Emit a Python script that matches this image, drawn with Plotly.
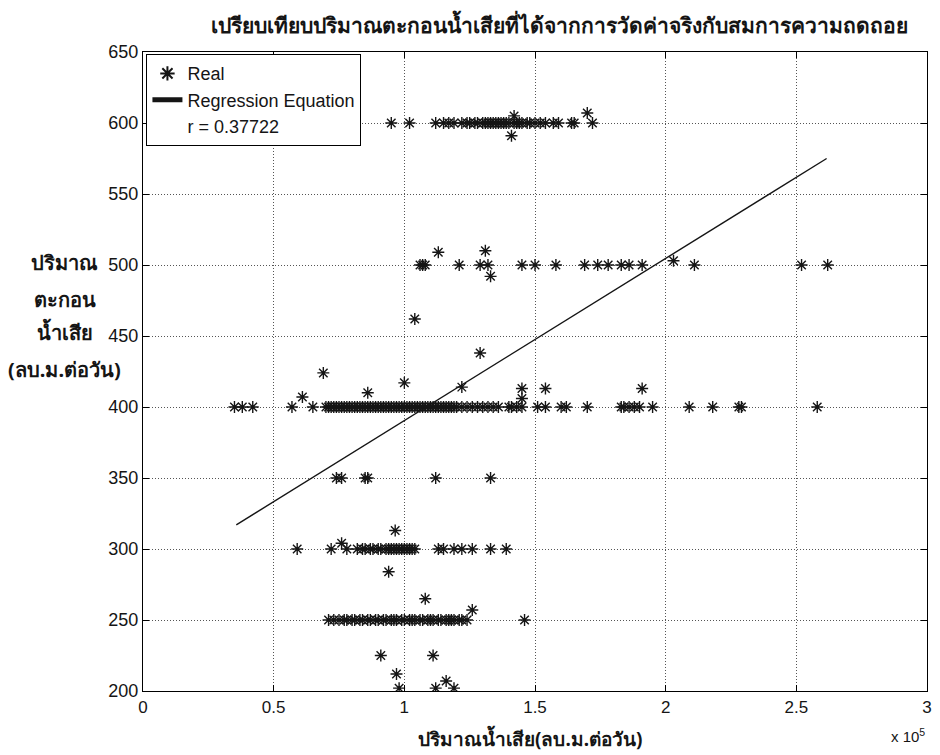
import plotly.graph_objects as go

# ---- data (x in units of 10^5 m3/day, y in m3/day) ----
row600_x = [0.95, 1.02, 1.12, 1.15, 1.17, 1.19, 1.22, 1.24, 1.25, 1.27, 1.28, 1.30, 1.31,
            1.32, 1.33, 1.34, 1.35, 1.36, 1.37, 1.38, 1.39, 1.40, 1.42, 1.43, 1.44, 1.45,
            1.47, 1.48, 1.50, 1.52, 1.54, 1.57, 1.59, 1.64, 1.65, 1.72]
row600_y = 600

row500_x = [1.06, 1.07, 1.08, 1.21, 1.29, 1.32, 1.45, 1.50, 1.58, 1.69, 1.74, 1.78,
            1.83, 1.86, 1.91, 2.11, 2.52, 2.62]
row500_y = 500

row400_x = [0.35, 0.38, 0.42, 0.57, 0.65, 0.70, 0.71, 0.72, 0.73, 0.74, 0.75, 0.76, 0.77,
            0.78, 0.79, 0.80, 0.81, 0.82, 0.83, 0.84, 0.85, 0.86, 0.87, 0.88, 0.89, 0.90,
            0.91, 0.92, 0.93, 0.94, 0.95, 0.96, 0.97, 0.98, 0.99, 1.00, 1.01, 1.02, 1.03,
            1.04, 1.05, 1.06, 1.07, 1.08, 1.09, 1.10, 1.11, 1.12, 1.13, 1.14, 1.15, 1.16,
            1.17, 1.18, 1.19, 1.20, 1.22, 1.24, 1.26, 1.28, 1.30, 1.32, 1.34, 1.36, 1.40,
            1.41, 1.43, 1.45, 1.51, 1.54, 1.60, 1.62, 1.70, 1.83, 1.84, 1.86, 1.88, 1.90,
            1.95, 2.09, 2.18, 2.28, 2.29, 2.58]
row400_y = 400

row350_x = [0.74, 0.76, 0.85, 0.86, 1.12, 1.33]
row350_y = 350

row300_x = [0.59, 0.72, 0.78, 0.82, 0.84, 0.85, 0.87, 0.88, 0.90, 0.91, 0.93, 0.94, 0.95,
            0.96, 0.97, 0.98, 0.99, 1.00, 1.01, 1.02, 1.03, 1.04, 1.13, 1.15, 1.19, 1.22,
            1.26, 1.33, 1.39]
row300_y = 300

row250_x = [0.71, 0.73, 0.75, 0.77, 0.78, 0.80, 0.81, 0.83, 0.84, 0.86, 0.87, 0.89, 0.90,
            0.92, 0.93, 0.95, 0.96, 0.97, 0.99, 1.00, 1.02, 1.03, 1.04, 1.06, 1.07, 1.09,
            1.10, 1.11, 1.13, 1.14, 1.16, 1.17, 1.18, 1.19, 1.21, 1.22, 1.24, 1.46]
row250_y = 250

other_x = [1.41, 1.42, 1.70, 2.03, 1.13, 1.31, 1.33, 1.04, 1.29,
           0.61, 0.69, 0.86, 1.00, 1.22, 1.45, 1.45, 1.54, 1.91,
           0.76, 0.965, 0.94, 1.26, 1.08, 0.91, 1.11, 0.97, 0.98, 1.16, 1.19, 1.12]
other_y = [591, 605, 607, 503, 509, 510, 492, 462, 438,
           407, 424, 410, 417, 414, 413, 406, 413, 413,
           304, 313, 284, 257, 265, 225, 225, 212, 202, 207, 202, 202]

reg_x = [0.357, 2.616]
reg_y = [317, 575]
r_label = "r = 0.37722"

x_ticks = [0, 0.5, 1, 1.5, 2, 2.5, 3]
x_tick_text = ["0", "0.5", "1", "1.5", "2", "2.5", "3"]
y_ticks = [200, 250, 300, 350, 400, 450, 500, 550, 600, 650]

title_text = "เปรียบเทียบปริมาณตะกอนน้ำเสียที่ได้จากการวัดค่าจริงกับสมการความถดถอย"
x_title = "ปริมาณน้ำเสีย(ลบ.ม.ต่อวัน)"
y_title_lines = ["ปริมาณ", "ตะกอน", "น้ำเสีย", "(ลบ.ม.ต่อวัน)"]

# ---- assemble ----
real_x, real_y = [], []
for xs, yv in [(row600_x, row600_y), (row500_x, row500_y), (row400_x, row400_y),
               (row350_x, row350_y), (row300_x, row300_y), (row250_x, row250_y)]:
    real_x += xs
    real_y += [yv] * len(xs)
real_x += other_x
real_y += other_y

FONT = "Liberation Sans, Arial, Noto Sans, sans-serif"
THAI = "Noto Sans, sans-serif"
INK = "#151515"

fig = go.Figure()
fig.add_trace(go.Scatter(
    x=real_x, y=real_y, mode="markers", name="Real",
    marker=dict(symbol="asterisk-open", size=10, color=INK,
                line=dict(width=1.4, color=INK)),
))
fig.add_trace(go.Scatter(
    x=reg_x, y=reg_y, mode="lines", name="Regression Equation",
    line=dict(color=INK, width=1.4),
))
fig.add_trace(go.Scatter(
    x=[None], y=[None], mode="lines", name=r_label,
    line=dict(color="rgba(0,0,0,0)", width=1),
))

axis_common = dict(
    showline=True, linecolor="black", linewidth=1.3, mirror="ticks",
    ticks="inside", ticklen=6, tickcolor="black", tickwidth=1.3,
    showgrid=True, gridcolor="#555555", griddash="1px,2px", gridwidth=1,
    zeroline=False,
)

# the page body has an 8px margin, so the figure is offset by 8px
fig.update_layout(
    width=932, height=747,
    paper_bgcolor="white", plot_bgcolor="white",
    margin=dict(l=135, r=8, t=44, b=64),
    showlegend=True,
    legend=dict(
        x=0.004, y=0.997, xanchor="left", yanchor="top",
        bgcolor="white", bordercolor="black", borderwidth=1.3,
        font=dict(family=FONT, size=18, color=INK),
        tracegroupgap=0, itemsizing="constant", itemwidth=30,
    ),
    title=dict(
        text="<b>" + title_text + "</b>",
        xref="container", x=0.592, xanchor="center",
        yref="container", y=0.977, yanchor="middle",
        font=dict(family=THAI, size=21, color=INK),
    ),
)
fig.update_xaxes(range=[0, 3], tickvals=x_ticks, ticktext=x_tick_text,
                 tickfont=dict(family=FONT, size=17, color=INK), **axis_common)
fig.update_yaxes(range=[200, 650], tickvals=y_ticks,
                 tickfont=dict(family=FONT, size=18, color=INK), **axis_common)

fig.add_annotation(
    text="<b>" + x_title + "</b>", xref="paper", yref="paper",
    x=0.494, y=-0.0736, xanchor="center", yanchor="middle", showarrow=False,
    font=dict(family=THAI, size=19, color=INK),
)
fig.add_annotation(
    text="x 10<sup>5</sup>", xref="paper", yref="paper",
    x=1.0, y=-0.069, xanchor="right", yanchor="middle", showarrow=False,
    font=dict(family=FONT, size=15, color=INK),
)
for line_text, ypos in zip(y_title_lines, [0.671, 0.612, 0.562, 0.503]):
    fig.add_annotation(
        text="<b>" + line_text + "</b>", xref="paper", yref="paper",
        x=-0.0995, y=ypos, xanchor="center", yanchor="middle", showarrow=False,
        font=dict(family=THAI, size=20, color=INK),
    )

fig.write_html("out.html")
